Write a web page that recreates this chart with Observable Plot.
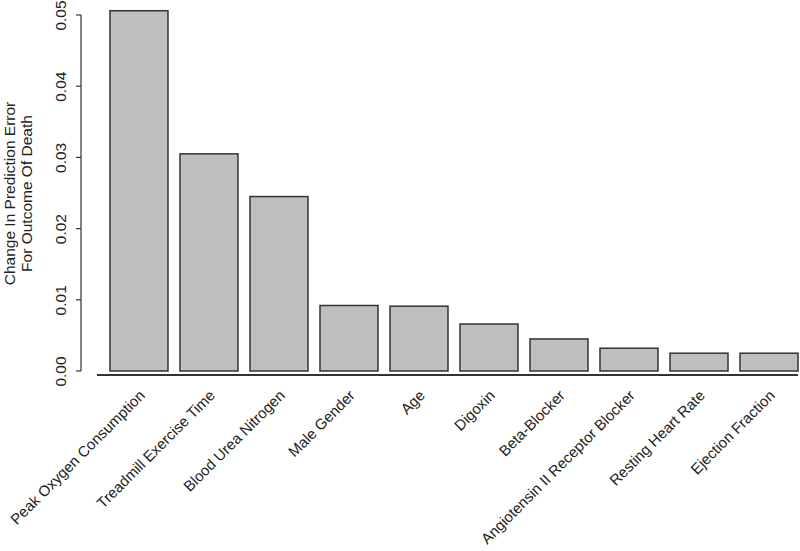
<!DOCTYPE html>
<html>
<head>
<meta charset="utf-8">
<script src="https://cdn.jsdelivr.net/npm/d3@7"></script>
<script src="https://cdn.jsdelivr.net/npm/@observablehq/plot@0.6"></script>
<style>
  html, body { margin: 0; padding: 0; background: #fff; }
  #chart svg { display: block; }
</style>
</head>
<body>
<div id="chart"></div>
<script>
const variables = [
  "Peak Oxygen Consumption",
  "Treadmill Exercise Time",
  "Blood Urea Nitrogen",
  "Male Gender",
  "Age",
  "Digoxin",
  "Beta-Blocker",
  "Angiotensin II Receptor Blocker",
  "Resting Heart Rate",
  "Ejection Fraction"
];
const errorChange = [0.0506, 0.0305, 0.0245, 0.0092, 0.0091, 0.0066, 0.0045, 0.0032, 0.0025, 0.0025];
const yTicks = [0, 0.01, 0.02, 0.03, 0.04, 0.05];
const yTitle = "Change In Prediction Error\nFor Outcome Of Death";

const data = variables.map((v, i) => ({variable: v, value: errorChange[i]}));
const font = "'Liberation Sans', Arial, Helvetica, sans-serif";
const ink = "#333";
const fs = 15.5;

function yAxisLine(index, scales, values, dims) {
  const y = scales.y;
  const x0 = dims.marginLeft;
  const g = d3.create("svg:g").attr("stroke", ink).attr("stroke-width", 1.2).attr("fill", "none");
  g.append("line").attr("x1", x0).attr("x2", x0).attr("y1", y(yTicks[0])).attr("y2", y(yTicks[yTicks.length - 1]));
  for (const t of yTicks) {
    g.append("line").attr("x1", x0 - 5).attr("x2", x0).attr("y1", y(t)).attr("y2", y(t));
  }
  return g.node();
}

const chart = Plot.plot({
  width: 800,
  height: 551,
  marginLeft: 81,
  marginRight: 2,
  marginTop: 15,
  marginBottom: 180,
  style: {fontFamily: font, fontSize: fs + "px", color: "#222", background: "#fff"},
  x: {domain: variables, paddingInner: 0.1714, paddingOuter: 0.207, align: 1, round: false, axis: null},
  y: {domain: [0, 0.05], axis: null},
  marks: [
    Plot.barY(data, {x: "variable", y: "value", fill: "#bebebe", stroke: ink, strokeWidth: 1.5}),
    Plot.ruleY([0], {dy: 3.5, insetLeft: 16, stroke: ink, strokeWidth: 1.8}),
    yAxisLine,
    Plot.text(yTicks, {y: d => d, text: d => d3.format(".2f")(d), frameAnchor: "left", rotate: -90, dx: -20, textAnchor: "middle", lineAnchor: "middle", fill: "#222", fontSize: fs}),
    Plot.text([yTitle], {y: [0.025], text: d => d, frameAnchor: "left", rotate: -90, dx: -63, textAnchor: "middle", lineAnchor: "middle", lineHeight: 1.1, fill: "#222", fontSize: fs}),
    Plot.text(data, {x: "variable", y: d => 0, text: "variable", rotate: -45, textAnchor: "end", lineAnchor: "middle", dy: 21.5, dx: 3, fill: "#222", fontSize: 15})
  ]
});
document.getElementById("chart").appendChild(chart);
</script>
</body>
</html>
